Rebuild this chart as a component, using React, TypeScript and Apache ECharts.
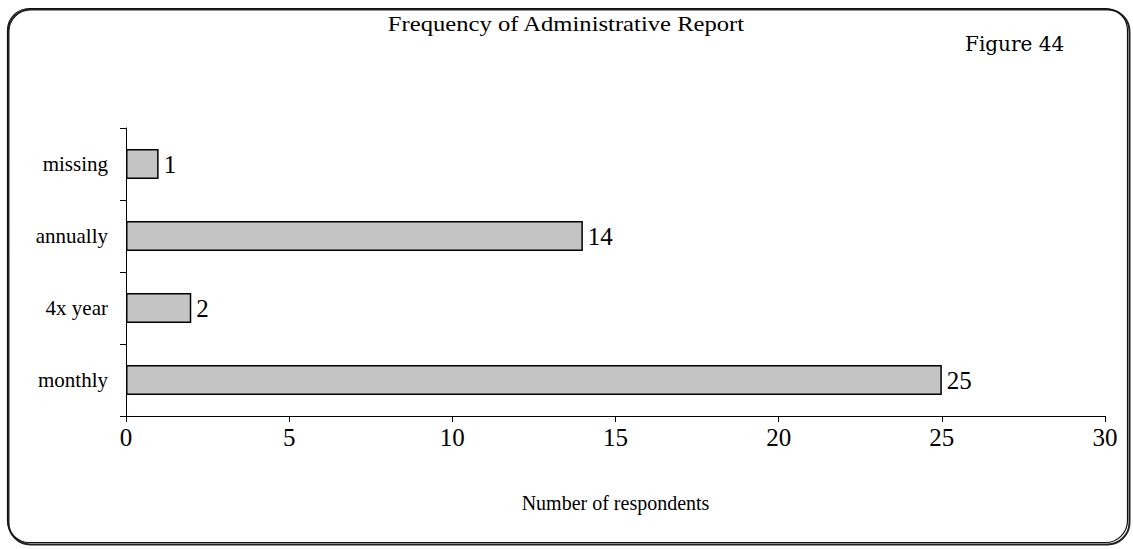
import React, { useEffect, useRef } from "react";
import * as echarts from "echarts";

const categories = ["monthly", "4x year", "annually", "missing"];
const values = [25, 2, 14, 1];
const xTicks = [0, 5, 10, 15, 20, 25, 30];
const titleText = "Frequency of Administrative Report";
const figureText = "Figure 44";
const xAxisName = "Number of respondents";

const FONT = '"Liberation Serif", "Times New Roman", serif';

export default function App() {
  const ref = useRef<HTMLDivElement>(null);
  useEffect(() => {
    if (!ref.current) return;
    const chart = echarts.init(ref.current, undefined, { renderer: "svg" });
    chart.setOption({
      animation: false,
      backgroundColor: "#ffffff",
      textStyle: { fontFamily: FONT, color: "#000" },
      graphic: [
        {
          type: "rect",
          shape: { x: 8.5, y: 9.5, width: 1121, height: 535, r: 22 },
          style: { fill: "none", stroke: "#222", lineWidth: 2 },
          silent: true,
          z: -1,
        },
        {
          type: "rect",
          shape: { x: 7.5, y: 8.5, width: 1120, height: 534, r: 22 },
          style: { fill: "none", stroke: "#111", lineWidth: 1.2 },
          silent: true,
          z: -1,
        },
        {
          type: "text",
          x: 566,
          y: 23,
          scaleX: 1.12,
          style: {
            text: titleText,
            font: `22px ${FONT}`,
            fill: "#000",
            align: "center",
            verticalAlign: "middle",
          },
        },
        {
          type: "text",
          x: 965,
          y: 44,
          style: {
            text: figureText,
            font: `20px "DejaVu Serif", serif`,
            fill: "#000",
            align: "left",
            verticalAlign: "middle",
          },
        },
      ],
      grid: { left: 126, right: 28, top: 128, bottom: 133, containLabel: false },
      xAxis: {
        type: "value",
        min: xTicks[0],
        max: xTicks[xTicks.length - 1],
        interval: 5,
        name: xAxisName,
        nameLocation: "middle",
        nameGap: 77,
        nameTextStyle: { fontFamily: FONT, fontSize: 20, color: "#000" },
        axisLine: { show: true, lineStyle: { color: "#000", width: 1 } },
        axisTick: { show: true, inside: false, length: 6, lineStyle: { color: "#000" } },
        axisLabel: { fontFamily: FONT, fontSize: 25, color: "#000", margin: 9 },
        splitLine: { show: false },
      },
      yAxis: {
        type: "category",
        data: categories,
        axisLine: { show: true, lineStyle: { color: "#000", width: 1 } },
        axisTick: { show: true, length: 6, lineStyle: { color: "#000" } },
        axisLabel: { fontFamily: FONT, fontSize: 21, color: "#000", margin: 18 },
      },
      series: [
        {
          type: "bar",
          data: values,
          barWidth: 30,
          itemStyle: {
            color: "#c4c4c4",
            borderColor: "#000",
            borderWidth: 1.5,
          },
          label: {
            show: true,
            position: "right",
            distance: 5,
            fontFamily: FONT,
            fontSize: 25,
            color: "#000",
          },
        },
      ],
    });
    return () => chart.dispose();
  }, []);
  return (
    <div
      ref={ref}
      style={{ position: "fixed", left: 0, top: 0, width: 1133, height: 549 }}
    />
  );
}
